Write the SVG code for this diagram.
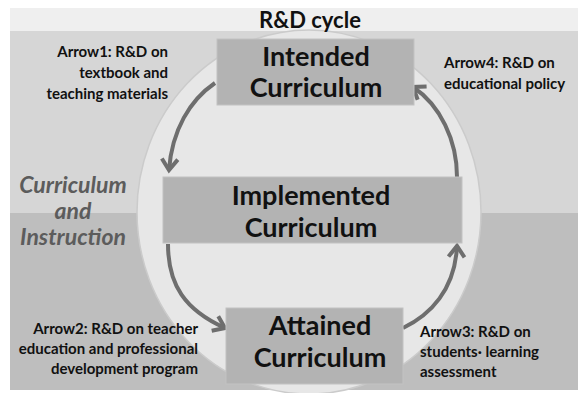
<svg xmlns="http://www.w3.org/2000/svg" width="578" height="393" viewBox="0 0 578 393">
<defs>
<style>
.lbl{font-family:Lato,"Liberation Sans",sans-serif;font-weight:bold;font-size:15px;fill:#111}
.box{fill:#b3b3b3;stroke:#c2c2c2;stroke-width:1}
.bt{font-family:Lato,"Liberation Sans",sans-serif;font-weight:bold;font-size:27px;fill:#111;text-anchor:middle}
.it{font-family:Lato,"Liberation Sans",sans-serif;font-weight:bold;font-style:italic;font-size:23px;fill:#5c5c5c;text-anchor:middle}
.arr{fill:none;stroke:#6e6e6e;stroke-width:4;marker-end:url(#head)}
</style>
<marker id="head" viewBox="0 0 20 20" refX="15" refY="10" markerWidth="20" markerHeight="20" markerUnits="userSpaceOnUse" orient="auto">
<path d="M4,2 L15,10 L4,18" fill="none" stroke="#6e6e6e" stroke-width="4" stroke-linejoin="miter"/>
</marker>
</defs>
<rect x="0" y="0" width="578" height="393" fill="#ffffff"/>
<g id="background">
<rect x="10" y="8" width="568" height="23" fill="#efefef"/>
<rect x="10" y="31" width="568" height="182" fill="#d6d6d6"/>
<rect x="10" y="213" width="568" height="177" fill="#bebebe"/>
<ellipse cx="309" cy="212" rx="172" ry="182" fill="#e7e7e7" stroke="#cbcbcb" stroke-width="1.5"/>
</g>
<text x="310" y="28" class="bt" style="font-size:22px">R&amp;D cycle</text>
<g id="context">
<text x="73" y="193" class="it">Curriculum</text>
<text x="73" y="219" class="it">and</text>
<text x="73" y="245" class="it">Instruction</text>
</g>
<g id="connectors">
<path class="arr" d="M215,83 C190,100 172,130 169,170"/>
<path class="arr" d="M168,244 C168,285 185,310 225,328"/>
<path class="arr" d="M403,328 C430,315 455,290 457,246"/>
<path class="arr" d="M457,177 C457,140 440,105 413,87"/>
</g>
<g id="arrow1-label">
<text class="lbl" text-anchor="end" x="168" y="57">Arrow1: R&amp;D on</text>
<text class="lbl" text-anchor="end" x="168" y="78">textbook and</text>
<text class="lbl" text-anchor="end" x="168" y="99">teaching materials</text>
</g>
<g id="arrow4-label">
<text class="lbl" x="444" y="68">Arrow4: R&amp;D on</text>
<text class="lbl" x="444" y="89">educational policy</text>
</g>
<g id="arrow2-label">
<text class="lbl" text-anchor="end" x="198" y="334">Arrow2: R&amp;D on teacher</text>
<text class="lbl" text-anchor="end" x="198" y="354">education and professional</text>
<text class="lbl" text-anchor="end" x="198" y="374">development program</text>
</g>
<g id="arrow3-label">
<text class="lbl" x="420" y="337">Arrow3: R&amp;D on</text>
<text class="lbl" x="420" y="357">students· learning</text>
<text class="lbl" x="420" y="377">assessment</text>
</g>
<g id="intended">
<rect class="box" x="217" y="39" width="197" height="66"/>
<text class="bt" x="316" y="66">Intended</text>
<text class="bt" x="316" y="97">Curriculum</text>
</g>
<g id="implemented">
<rect class="box" x="163" y="177" width="299" height="66"/>
<text class="bt" x="311" y="205">Implemented</text>
<text class="bt" x="311" y="237">Curriculum</text>
</g>
<g id="attained">
<rect class="box" x="226" y="308" width="177" height="76"/>
<text class="bt" x="320" y="335">Attained</text>
<text class="bt" x="320" y="367">Curriculum</text>
</g>
</svg>
